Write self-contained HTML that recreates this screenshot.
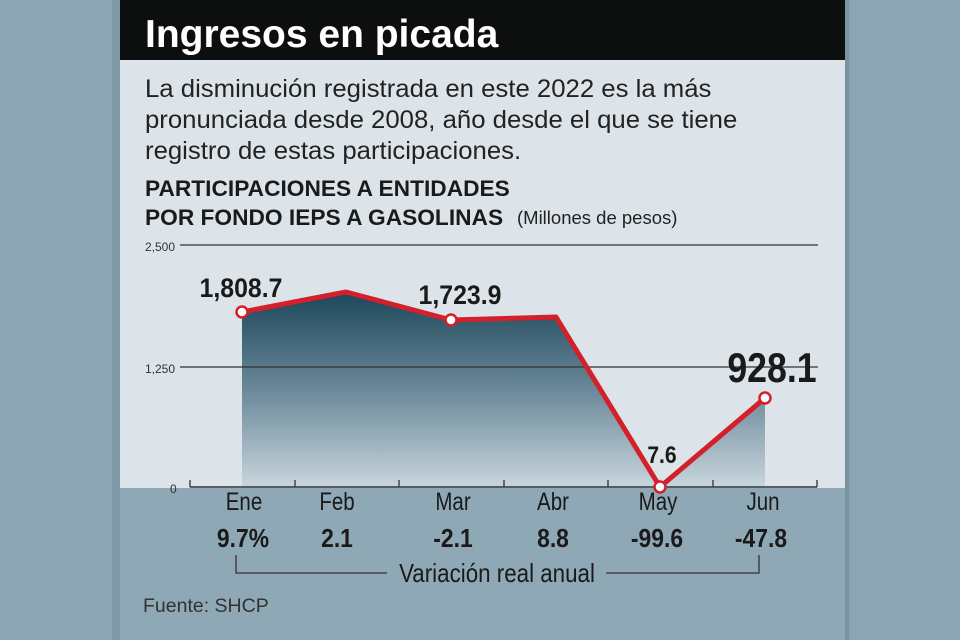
<!DOCTYPE html>
<html><head><meta charset="utf-8"><style>
html,body{margin:0;padding:0;background:#8ca5b2;}
svg{display:block;}
text{font-family:"Liberation Sans",sans-serif;}
</style></head><body>
<svg width="960" height="640" viewBox="0 0 960 640" xmlns="http://www.w3.org/2000/svg">
<defs>
<linearGradient id="fill" gradientUnits="userSpaceOnUse" x1="0" y1="290" x2="0" y2="488">
<stop offset="0" stop-color="#1b4659"/>
<stop offset="0.5" stop-color="#6a8899"/>
<stop offset="1" stop-color="#c9d6de"/>
</linearGradient>
</defs>
<rect width="960" height="640" fill="#8ca5b2"/>
<rect x="112" y="0" width="8" height="640" fill="#7f98a6"/>
<rect x="120" y="0" width="725" height="640" fill="#8fa8b5"/>
<rect x="845" y="0" width="4" height="640" fill="#7a93a1"/>
<rect x="120" y="60" width="725" height="428" fill="#dce4e9"/>
<rect x="120" y="0" width="725" height="60" fill="#0d0f0f"/>
<text x="145" y="47" font-size="39" font-weight="bold" fill="#fff">Ingresos en picada</text>
<g font-size="25" fill="#222" transform="translate(145 0) scale(1.03 1) translate(-145 0)">
<text x="145" y="97">La disminución registrada en este 2022 es la más</text>
<text x="145" y="128">pronunciada desde 2008, año desde el que se tiene</text>
<text x="145" y="159">registro de estas participaciones.</text>
</g>
<g font-size="22.5" font-weight="bold" fill="#1a1a1a" transform="translate(145 0) scale(1.01 1) translate(-145 0)">
<text x="145" y="196">PARTICIPACIONES A ENTIDADES</text>
<text x="145" y="225">POR FONDO IEPS A GASOLINAS</text>
</g>
<text x="517" y="224" font-size="18.5" fill="#222">(Millones de pesos)</text>
<polygon points="242,312 346,292 451,320 556,317 660,487 765,398 765,488 242,488" fill="url(#fill)"/>
<g stroke="#333" stroke-width="1.2">
<line x1="180" y1="245" x2="818" y2="245"/>
<line x1="180" y1="367" x2="818" y2="367"/>
</g>
<g font-size="12" fill="#333">
<text x="145" y="251">2,500</text>
<text x="145" y="373">1,250</text>
<text x="170" y="493">0</text>
</g>
<line x1="190" y1="487" x2="817" y2="487" stroke="#333" stroke-width="1.5"/>
<g stroke="#333" stroke-width="1.3">
<line x1="190" y1="480" x2="190" y2="487"/><line x1="295" y1="480" x2="295" y2="487"/>
<line x1="399" y1="480" x2="399" y2="487"/><line x1="504" y1="480" x2="504" y2="487"/>
<line x1="608" y1="480" x2="608" y2="487"/><line x1="713" y1="480" x2="713" y2="487"/>
<line x1="817" y1="480" x2="817" y2="487"/>
</g>
<polyline points="242,312 346,292 451,320 556,317 660,487 765,398" fill="none" stroke="#d3202a" stroke-width="5" stroke-linejoin="round"/>
<g fill="#fff" stroke="#d3202a" stroke-width="2.5">
<circle cx="242" cy="312" r="5.5"/><circle cx="451" cy="320" r="5.5"/>
<circle cx="660" cy="487" r="5.5"/><circle cx="765" cy="398" r="5.5"/>
</g>
<g font-weight="bold" fill="#1a1a1a" text-anchor="middle">
<text x="241" y="297" font-size="27" transform="translate(241 0) scale(0.92 1) translate(-241 0)">1,808.7</text>
<text x="460" y="304" font-size="27" transform="translate(460 0) scale(0.92 1) translate(-460 0)">1,723.9</text>
<text x="662" y="463" font-size="24" transform="translate(662 0) scale(0.88 1) translate(-662 0)">7.6</text>
<text x="772" y="382" font-size="42" transform="translate(772 0) scale(0.85 1) translate(-772 0)">928.1</text>
</g>
<g font-size="25" fill="#1a1a1a" text-anchor="middle">
<text x="244" y="510" transform="translate(244 0) scale(0.82 1) translate(-244 0)">Ene</text>
<text x="337" y="510" transform="translate(337 0) scale(0.82 1) translate(-337 0)">Feb</text>
<text x="453" y="510" transform="translate(453 0) scale(0.82 1) translate(-453 0)">Mar</text>
<text x="553" y="510" transform="translate(553 0) scale(0.82 1) translate(-553 0)">Abr</text>
<text x="658" y="510" transform="translate(658 0) scale(0.82 1) translate(-658 0)">May</text>
<text x="763" y="510" transform="translate(763 0) scale(0.82 1) translate(-763 0)">Jun</text>
</g>
<g font-size="26" font-weight="bold" fill="#1a1a1a" text-anchor="middle">
<text x="243" y="547" transform="translate(243 0) scale(0.88 1) translate(-243 0)">9.7%</text>
<text x="337" y="547" transform="translate(337 0) scale(0.88 1) translate(-337 0)">2.1</text>
<text x="453" y="547" transform="translate(453 0) scale(0.88 1) translate(-453 0)">-2.1</text>
<text x="553" y="547" transform="translate(553 0) scale(0.88 1) translate(-553 0)">8.8</text>
<text x="657" y="547" transform="translate(657 0) scale(0.88 1) translate(-657 0)">-99.6</text>
<text x="761" y="547" transform="translate(761 0) scale(0.88 1) translate(-761 0)">-47.8</text>
</g>
<polyline points="236,555 236,573 387,573" fill="none" stroke="#333" stroke-width="1.3"/>
<polyline points="606,573 759,573 759,555" fill="none" stroke="#333" stroke-width="1.3"/>
<text x="497" y="582" font-size="26" fill="#1a1a1a" text-anchor="middle" transform="translate(497 0) scale(0.86 1) translate(-497 0)">Variación real anual</text>
<text x="143" y="612" font-size="19.5" fill="#333">Fuente: SHCP</text>
</svg>
</body></html>
